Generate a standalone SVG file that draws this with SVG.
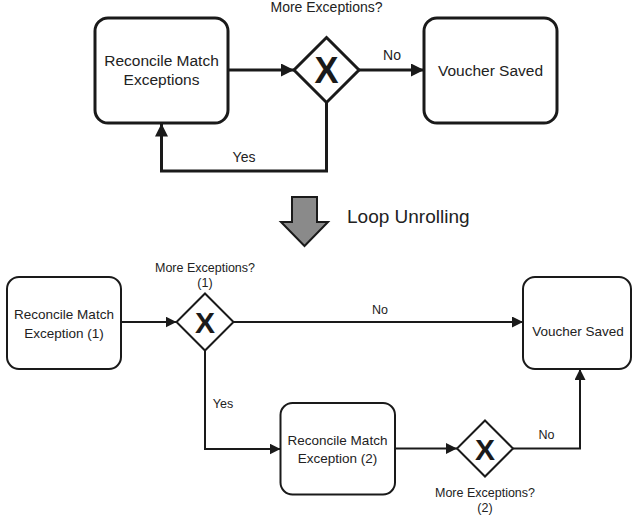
<svg xmlns="http://www.w3.org/2000/svg" width="632" height="521" viewBox="0 0 632 521">
  <defs>
    <marker id="arrowBig" markerUnits="userSpaceOnUse" markerWidth="14" markerHeight="14" refX="13" refY="6.5" orient="auto">
      <path d="M0,0 L13,6.5 L0,13 Z" fill="#1a1a1a"/>
    </marker>
    <marker id="arrowSmall" markerUnits="userSpaceOnUse" markerWidth="12" markerHeight="12" refX="11" refY="5.5" orient="auto">
      <path d="M0,0 L11,5.5 L0,11 Z" fill="#1a1a1a"/>
    </marker>
    <style>
      text { font-family: "Liberation Sans", Arial, sans-serif; fill: #222; text-anchor: middle; }
      .task { fill: #fff; stroke: #1a1a1a; }
      .gw { fill: #fff; stroke: #1a1a1a; }
      .big { stroke-width: 3; }
      .small { stroke-width: 2; }
      .flowBig { fill: none; stroke: #1a1a1a; stroke-width: 3; marker-end: url(#arrowBig); }
      .flowSmall { fill: none; stroke: #1a1a1a; stroke-width: 2; marker-end: url(#arrowSmall); }
      .xmark { font-weight: bold; fill: #1a1a1a; }
      .t15 { font-size: 15.5px; }
      .t14 { font-size: 14px; }
      .t13 { font-size: 13.5px; }
      .t12 { font-size: 12.5px; }
    </style>
  </defs>
  <rect width="632" height="521" fill="#fff"/>

  <!-- connectors: looped process -->
  <g id="connectors-top">
    <line class="flowBig" x1="228" y1="70" x2="294" y2="70"/>
    <line class="flowBig" x1="359" y1="70" x2="424" y2="70"/>
    <path class="flowBig" d="M326.5,102.5 V171 H161.5 V123.5"/>
    <text class="t14" x="392" y="60">No</text>
    <text class="t14" x="244" y="161.5">Yes</text>
  </g>

  <!-- looped process nodes -->
  <g id="task-reconcile">
    <rect class="task big" x="95" y="18" width="133" height="105" rx="13"/>
    <text class="t15" x="161.5" y="66">Reconcile Match</text>
    <text class="t15" x="161.5" y="84.5">Exceptions</text>
  </g>
  <g id="gateway-more">
    <polygon class="gw big" points="326.5,37.5 359,70 326.5,102.5 294,70"/>
    <text class="xmark" x="326.5" y="83" font-size="36">X</text>
    <text class="t14" x="326.5" y="12">More Exceptions?</text>
  </g>
  <g id="task-voucher">
    <rect class="task big" x="424" y="18" width="133" height="105" rx="13"/>
    <text class="t15" x="490.5" y="75.5">Voucher Saved</text>
  </g>

  <!-- transformation arrow -->
  <g id="loop-unrolling">
    <polygon points="292,197 317,197 317,222 328,222 304.5,246 281,222 292,222" fill="#8a8a8a" stroke="#1a1a1a" stroke-width="2" stroke-linejoin="miter"/>
    <text x="347" y="223" font-size="19px" style="text-anchor:start">Loop Unrolling</text>
  </g>

  <!-- connectors: unrolled process -->
  <g id="connectors-bottom">
    <line class="flowSmall" x1="121" y1="322" x2="176.5" y2="322"/>
    <line class="flowSmall" x1="233.5" y1="322" x2="523" y2="322"/>
    <path class="flowSmall" d="M205,350.5 V449 H280.5"/>
    <line class="flowSmall" x1="395" y1="448.5" x2="457" y2="448.5"/>
    <path class="flowSmall" d="M513,448.5 H580 V369"/>
    <text class="t12" x="380" y="314">No</text>
    <text class="t12" x="223" y="408">Yes</text>
    <text class="t12" x="546.5" y="439">No</text>
  </g>

  <!-- unrolled process nodes -->
  <g id="task-reconcile-1">
    <rect class="task small" x="7" y="277" width="114" height="92" rx="12"/>
    <text class="t13" x="64" y="319">Reconcile Match</text>
    <text class="t13" x="64" y="337.5">Exception (1)</text>
  </g>
  <g id="gateway-more-1">
    <polygon class="gw small" points="205,293.5 233.5,322 205,350.5 176.5,322"/>
    <text class="xmark" x="205" y="333" font-size="30">X</text>
    <text class="t12" x="205" y="272">More Exceptions?</text>
    <text class="t12" x="205" y="287">(1)</text>
  </g>
  <g id="task-voucher-2">
    <rect class="task small" x="523" y="277" width="108" height="92" rx="12"/>
    <text class="t13" x="578" y="336">Voucher Saved</text>
  </g>
  <g id="task-reconcile-2">
    <rect class="task small" x="280.5" y="403" width="114.5" height="91.5" rx="12"/>
    <text class="t13" x="337.5" y="445">Reconcile Match</text>
    <text class="t13" x="337.5" y="463">Exception (2)</text>
  </g>
  <g id="gateway-more-2">
    <polygon class="gw small" points="485,420.5 513,448.5 485,476.5 457,448.5"/>
    <text class="xmark" x="485" y="459.5" font-size="30">X</text>
    <text class="t12" x="485" y="497">More Exceptions?</text>
    <text class="t12" x="485" y="512">(2)</text>
  </g>
</svg>
